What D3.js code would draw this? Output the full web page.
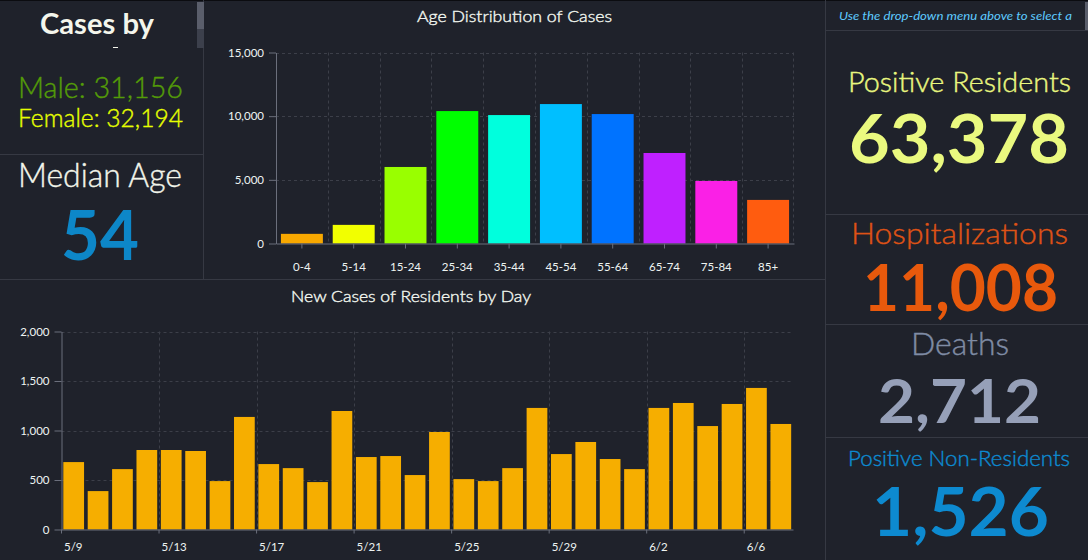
<!DOCTYPE html>
<html><head><meta charset="utf-8">
<style>
html,body{margin:0;padding:0;background:#1f222b;overflow:hidden}
svg{display:block}
text{font-family:Lato,"Open Sans",sans-serif}
.tick text{fill:#eef4f2;font-size:11.5px}
</style>
<script src="https://cdnjs.cloudflare.com/ajax/libs/d3/7.8.5/d3.min.js"></script>
</head><body>
<svg id="c" width="1088" height="560"></svg>
<script>
const ageLabels=["0-4","5-14","15-24","25-34","35-44","45-54","55-64","65-74","75-84","85+"];
const ageValues=[758,1463,6010,10400,10087,10950,10165,7108,4913,3423];
const ageColors=["#f8a800","#f2ff00","#99ff00","#00ff00","#00ffdd","#00bfff","#0073ff","#bf20ff","#fa20e6","#ff5c0f"];
const ageTicks=[0,5000,10000,15000];
const dayLabels=["5/9","5/10","5/11","5/12","5/13","5/14","5/15","5/16","5/17","5/18","5/19","5/20","5/21","5/22","5/23","5/24","5/25","5/26","5/27","5/28","5/29","5/30","5/31","6/1","6/2","6/3","6/4","6/5","6/6","6/7"];
const dayValues=[681,388,610,803,803,793,489,1137,661,620,479,1197,732,742,550,985,509,489,620,1228,762,884,712,610,1228,1278,1045,1268,1430,1066];
const dayTickLabels=["5/9","5/13","5/17","5/21","5/25","5/29","6/2","6/6"];
const dayTicks=[0,500,1000,1500,2000];

const svg=d3.select("#c");
const LINE="#363943",GRID="#3c3f49",AXIS="#6b6f7c";
svg.append("rect").attr("width",1088).attr("height",560).attr("fill","#1f222b");
svg.append("rect").attr("width",1088).attr("height",1).attr("fill","#0b0c10");
[[203.5,0,203.5,279],[825.5,0,825.5,560],[0,154.5,203,154.5],[0,279.5,825,279.5],[826,30.5,1088,30.5],[826,214.5,1088,214.5],[826,324.5,1088,324.5],[826,437.5,1088,437.5]]
 .forEach(l=>svg.append("line").attr("x1",l[0]).attr("y1",l[1]).attr("x2",l[2]).attr("y2",l[3]).attr("stroke",LINE));
svg.append("rect").attr("x",197).attr("y",2).attr("width",7).attr("height",46).attr("fill","#3c404c");
svg.append("rect").attr("x",197).attr("y",2).attr("width",7).attr("height",27).attr("fill","#5a5e6b");
svg.append("rect").attr("x",1085).attr("y",2).attr("width",3).attr("height",28).attr("fill","#5a5e6b");
svg.append("rect").attr("x",113).attr("y",47).attr("width",5).attr("height",1).attr("fill","#f4f6ec");

function label(s,x1,x2,base,size,color,opt={}){
  const t=svg.append("text").attr("x",(x1+x2)/2).attr("y",base).attr("text-anchor","middle")
    .attr("font-size",size).attr("fill",color).attr("font-weight",opt.w||300).attr("font-style",opt.i||"normal")
    .attr("textLength",x2-x1).attr("lengthAdjust","spacingAndGlyphs").text(s);
  if(!opt.w) t.attr("stroke",color).attr("stroke-width",.4);
  return t;
}
label("Cases by",40,154,34,28,"#f4f6ec",{w:700});
label("Male: 31,156",18,183,98,30,"#549c08");
label("Female: 32,194",18,183,127,26,"#e6ff00");
label("Median Age",18,182,187,33,"#f2f5ea");
label("54",61,139,260,68,"#0d87c8",{w:700});
label("Use the drop-down menu above to select a",839,1072,20,11.5,"#5ecbff",{i:"italic",w:400});
label("Positive Residents",848,1071,92,27,"#e9f77f");
label("63,378",849,1069,163,66,"#eaf97f",{w:700});
label("Hospitalizations",851,1068,244,29,"#de5216");
label("11,008",863,1058,311,65,"#e8590c",{w:700});
label("Deaths",911,1009,355,31,"#7f8ca5");
label("2,712",878,1041,423,61,"#96a0b8",{w:700});
label("Positive Non-Residents",848,1070,466,21,"#0d8ad0");
label("1,526",872,1049,536,66,"#0d8ad0",{w:700});
label("Age Distribution of Cases",417,612,22,16.5,"#f0f5ee");
label("New Cases of Residents by Day",291,531,302,16.5,"#f0f5ee");

function chart(cfg){
  const x=d3.scaleBand().domain(cfg.cats).range([cfg.x0,cfg.x1]).paddingInner(cfg.pad).paddingOuter(cfg.pad/2);
  const y=d3.scaleLinear().domain(cfg.dom).range([cfg.y0,cfg.y1]);
  const g=svg.append("g");
  const off=x.step()/2;
  const edge=c=>x(c)-x.step()*cfg.pad/2;
  g.selectAll(null).data(cfg.yt.slice(1)).join("line").attr("x1",cfg.x0).attr("x2",cfg.x1)
    .attr("y1",d=>Math.round(y(d))+.5).attr("y2",d=>Math.round(y(d))+.5).attr("stroke",GRID).attr("stroke-dasharray","3 3");
  g.selectAll(null).data(cfg.gridCats).join("line").attr("x1",d=>Math.round(edge(d))+.5).attr("x2",d=>Math.round(edge(d))+.5)
    .attr("y1",cfg.y1).attr("y2",cfg.y0).attr("stroke",GRID).attr("stroke-dasharray","3 3");
  if(cfg.rightGrid) g.append("line").attr("x1",cfg.x1-.5).attr("x2",cfg.x1-.5).attr("y1",cfg.y1).attr("y2",cfg.y0).attr("stroke",GRID).attr("stroke-dasharray","3 3");
  g.selectAll(null).data(cfg.vals).join("rect")
    .attr("x",(d,i)=>x(cfg.cats[i])).attr("width",x.bandwidth())
    .attr("y",d=>y(d)).attr("height",d=>cfg.y0-y(d))
    .attr("fill",(d,i)=>cfg.colors?cfg.colors[i]:cfg.color);
  const ax=g.append("g").attr("transform",`translate(${cfg.x0},0)`)
    .call(d3.axisLeft(y).tickValues(cfg.yt).tickFormat(d3.format(",")).tickSize(7).tickSizeOuter(0).tickPadding(5));
  ax.selectAll("path,line").attr("stroke",AXIS);
  const bx=g.append("g").attr("transform",`translate(0,${cfg.y0})`)
    .call(d3.axisBottom(x).tickValues(cfg.xt).tickSize(cfg.tickLeft?4:5).tickSizeOuter(0).tickPadding(cfg.pady));
  bx.selectAll("path,line").attr("stroke",AXIS);
  if(cfg.tickLeft){
    bx.selectAll(".tick line").attr("x1",-off).attr("x2",-off);
    bx.selectAll(".tick text").attr("x",-off+2.5).attr("text-anchor","start");
  }
}
chart({cats:ageLabels,vals:ageValues,colors:ageColors,dom:[0,15000],yt:ageTicks,xt:ageLabels,gridCats:ageLabels.slice(1),
  rightGrid:true,x0:276,x1:794,y0:243.5,y1:52.5,pad:0.19,pady:14});
chart({cats:dayLabels,vals:dayValues,color:"#f6ae00",dom:[0,2000],yt:dayTicks,xt:dayTickLabels,gridCats:dayTickLabels.slice(1),
  tickLeft:true,x0:61.5,x1:793,y0:529.5,y1:331.5,pad:0.15,pady:9});
</script>
</body></html>
